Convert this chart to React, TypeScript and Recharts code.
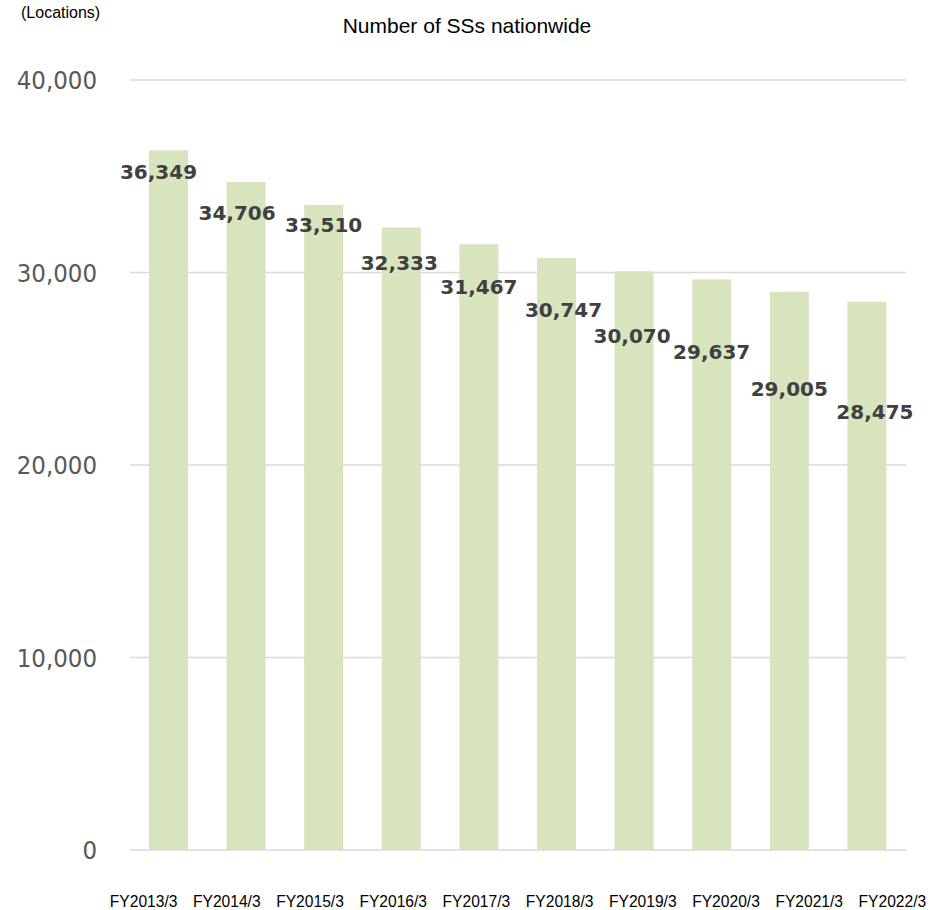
import { BarChart, Bar, XAxis, YAxis, CartesianGrid, LabelList } from "recharts";

const fiscalYears = [
  "FY2013/3",
  "FY2014/3",
  "FY2015/3",
  "FY2016/3",
  "FY2017/3",
  "FY2018/3",
  "FY2019/3",
  "FY2020/3",
  "FY2021/3",
  "FY2022/3",
];

const stationCounts = [36349, 34706, 33510, 32333, 31467, 30747, 30070, 29637, 29005, 28475];

const yTicks = [0, 10000, 20000, 30000, 40000];

// hand-placed label nudges in the original (relative to bar top centre)
const labelNudge = [
  { dx: -10, dy: 22 },
  { dx: -9, dy: 31 },
  { dx: 0, dy: 20 },
  { dx: -2, dy: 35 },
  { dx: 0, dy: 43 },
  { dx: 7, dy: 52 },
  { dx: -2, dy: 65 },
  { dx: 0, dy: 73 },
  { dx: 0, dy: 97 },
  { dx: 8, dy: 110 },
];

const data = fiscalYears.map((name, i) => ({ name, value: stationCounts[i] }));

const fmt = (v: number) => v.toLocaleString("en-US");

interface LabelProps {
  x?: number;
  y?: number;
  width?: number;
  value?: number;
  index?: number;
}

function ValueLabel({ x = 0, y = 0, width = 0, value = 0, index = 0 }: LabelProps) {
  const n = labelNudge[index] ?? { dx: 0, dy: 20 };
  return (
    <text
      x={x + width / 2 + n.dx}
      y={y + n.dy}
      textAnchor="middle"
      dominantBaseline="central"
      fill="#404040"
      fontFamily="'DejaVu Sans', Verdana, sans-serif"
      fontWeight="bold"
      fontSize={20}
    >
      {fmt(value)}
    </text>
  );
}

export default function App() {
  return (
    <div style={{ position: "absolute", left: 0, top: 0, width: 938, height: 910, background: "#fff" }}>
      <div
        style={{
          position: "absolute",
          left: 21,
          top: 5,
          fontFamily: "'Liberation Sans', Arial, sans-serif",
          fontSize: 16,
          lineHeight: "16px",
          color: "#000",
        }}
      >
        (Locations)
      </div>
      <div
        style={{
          position: "absolute",
          left: 0,
          width: 934,
          top: 15,
          textAlign: "center",
          fontFamily: "'Liberation Sans', Arial, sans-serif",
          fontSize: 21,
          lineHeight: "21px",
          color: "#000",
        }}
      >
        Number of SSs nationwide
      </div>
      <BarChart
        width={938}
        height={910}
        data={data}
        margin={{ top: 80, right: 32, left: 0, bottom: 0 }}
        style={{ position: "absolute", left: 0, top: 0 }}
      >
        <CartesianGrid vertical={false} stroke="#d9d9d9" strokeWidth={1.5} />
        <XAxis
          xAxisId="labels"
          dataKey="name"
          height={60}
          padding={{ left: -28, right: -28 }}
          axisLine={false}
          tickLine={false}
          tickMargin={40}
          interval={0}
          tick={{ fill: "#000", fontSize: 15.6, fontFamily: "'Liberation Sans', Arial, sans-serif" }}
        />
        <XAxis xAxisId="bars" dataKey="name" hide height={0} />
        <YAxis
          width={130}
          domain={[0, 40000]}
          ticks={yTicks}
          axisLine={false}
          tickLine={false}
          tickMargin={27}
          tickFormatter={fmt}
          tick={{
            fill: "#595959",
            fontSize: 25.5,
            fontFamily: "'DejaVu Sans Condensed', 'DejaVu Sans', sans-serif",
          }}
        />
        <Bar xAxisId="bars" dataKey="value" fill="#d7e4bd" barSize={39} isAnimationActive={false}>
          <LabelList dataKey="value" content={(p: any) => <ValueLabel {...p} />} />
        </Bar>
      </BarChart>
    </div>
  );
}
